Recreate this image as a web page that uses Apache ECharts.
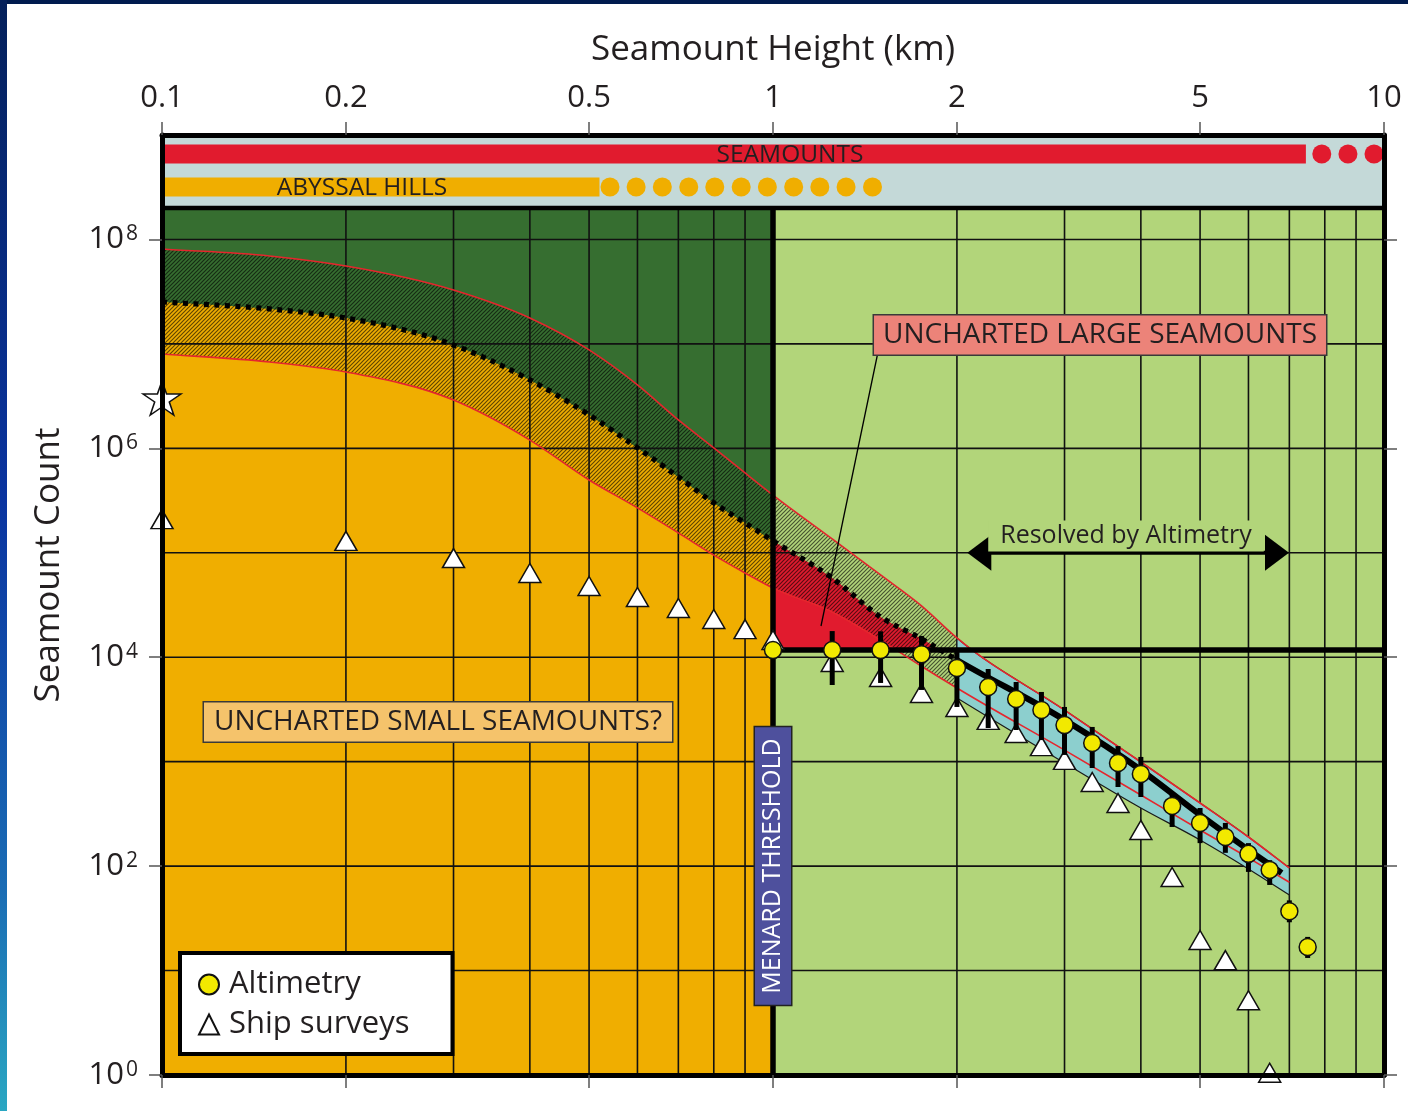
<!DOCTYPE html>
<html>
<head>
<meta charset="utf-8">
<title>Seamount Height vs Count</title>
<script src="https://cdn.jsdelivr.net/npm/echarts@6/dist/echarts.min.js"></script>
<style>
  html, body { margin: 0; padding: 0; background: #ffffff; }
  #chart { width: 1408px; height: 1111px; }
</style>
</head>
<body>
<div id="chart"></div>
<script>
// ---------- axis ticks ----------
const heightTicks = [0.1, 0.2, 0.5, 1, 2, 5, 10];
const countTicks = [1, 1e2, 1e4, 1e6, 1e8];
const gridHeights = [0.2, 0.3, 0.4, 0.5, 0.6, 0.7, 0.8, 0.9, 2, 3, 4, 5, 6, 7, 8, 9];
const gridCounts = [1e1, 1e2, 1e3, 1e4, 1e5, 1e6, 1e7, 1e8];

// ---------- model envelope (cumulative count vs height) ----------
const curveHeights = [0.1, 0.15, 0.2, 0.3, 0.4, 0.5, 0.6, 0.7, 0.8, 0.9, 1, 1.25, 1.5, 1.75, 2, 3, 4, 5, 6, 7];
const upperBound = [8.1e7, 6.95e7, 5.57e7, 3.28e7, 1.77e7, 8.75e6, 4.05e6, 1.87e6, 1.01e6, 5.81e5, 3.57e5, 1.36e5, 6.13e4, 3.1e4, 1.53e4, 3.12e3, 993, 402, 190, 96];
const lowerBound = [8.0e6, 6.71e6, 5.38e6, 2.9e6, 1.2e6, 4.98e5, 2.69e5, 1.55e5, 9.5e4, 6.41e4, 4.6e4, 2.71e4, 1.46e4, 8.2e3, 5.07e3, 1.29e3, 480, 222, 120, 70];
const medianHeights = [0.1, 0.15, 0.2, 0.3, 0.4, 0.5, 0.6, 0.7, 0.8, 0.9, 1, 1.25, 1.5, 1.75, 2, 3, 4, 5, 6, 6.8];
const medianModel = [2.52e7, 2.16e7, 1.77e7, 9.77e6, 4.52e6, 2.09e6, 1.01e6, 5.32e5, 3.0e5, 1.93e5, 1.3e5, 5.74e4, 2.43e4, 1.5e4, 9.4e3, 2.51e3, 832, 309, 143, 86];

// altimetry-resolved band (upper edge follows upperBound)
const bandHeights = [2, 3, 4, 5, 6, 7];
const bandLower = [4.07e3, 971, 360, 178, 94, 53];

// Menard threshold
const menardHeight = 1;
const menardCount = 1.17e4;
const resolvedFrom = 2;

// ---------- observations ----------
const altimetryHeights = [1, 1.25, 1.5, 1.75, 2, 2.25, 2.5, 2.75, 3, 3.33, 3.67, 4, 4.5, 5, 5.5, 6, 6.5, 7, 7.5];
const altimetryCounts = [1.17e4, 1.17e4, 1.17e4, 1.07e4, 7.89e3, 5.19e3, 3.98e3, 3.12e3, 2.24e3, 1.51e3, 971, 762, 377, 259, 190, 131, 92, 37, 16.8];
const altimetryHigh = [1.17e4, 1.78e4, 1.77e4, 1.6e4, 1.17e4, 7.71e3, 5.79e3, 4.65e3, 3.34e3, 2.15e3, 1.41e3, 1.11e3, 512, 360, 259, 166, 114, 47, 21];
const altimetryLow = [1.17e4, 5.42e3, 5.67e3, 4.86e3, 3.34e3, 2.1e3, 2.01e3, 1.61e3, 1.16e3, 870, 572, 459, 237, 166, 134, 88, 66, 29, 13.2];

const shipHeights = [0.1, 0.2, 0.3, 0.4, 0.5, 0.6, 0.7, 0.8, 0.9, 1, 1.25, 1.5, 1.75, 2, 2.25, 2.5, 2.75, 3, 3.33, 3.67, 4, 4.5, 5, 5.5, 6, 6.5];
const shipCounts = [2.1e5, 1.3e5, 8.9e4, 6.41e4, 4.81e4, 3.77e4, 2.96e4, 2.32e4, 1.86e4, 1.46e4, 9.0e3, 6.47e3, 4.55e3, 3.34e3, 2.51e3, 1.88e3, 1.41e3, 1.04e3, 639, 402, 222, 78.7, 19.6, 12.6, 5.2, 1.05];

const starHeight = [0.1];
const starCount = [3.03e6];

// ---------- size-class bars in the top strip ----------
const seamountRange = [0.1, 7.45];
const seamountDots = [7.91, 8.73, 9.63];
const seamountLevel = 6.58e8;
const abyssalRange = [0.1, 0.52];
const abyssalDots = [0.541, 0.597, 0.659, 0.728, 0.803, 0.887, 0.979, 1.081, 1.193, 1.317, 1.455];
const abyssalLevel = 3.18e8;

// arrow of the altimetry-resolved range
const resolvedRange = [2.08, 6.99];
const resolvedLevel = 1e5;

// ---------- extents ----------
const X_MIN = 0.1, X_MAX = 10, Y_MIN = 1, Y_MAX = 1e9, STRIP = 2e8;

const FONT = "'Open Sans', 'Noto Sans', sans-serif";
const INK = '#231f20';
const COL = {
  darkGreen: '#366e30',
  orange: '#f0ae00',
  lightGreen: '#b2d57a',
  red: '#e11b2e',
  cyan: '#8ccfce',
  strip: '#c4d9d8',
  redLine: '#e5262d',
  yellow: '#f2e900'
};

// ---------- helpers ----------
const pairs = (xs, ys) => xs.map((x, i) => [x, ys[i]]);
const idxOf = (xs, v) => xs.findIndex(x => Math.abs(x - v) < 1e-9);

// Smooth (monotone cubic Hermite) curve through pixel points, as Bezier segments.
function bezierSegments(px) {
  const n = px.length, d = [], h = [], m = new Array(n);
  for (let i = 0; i < n - 1; i++) {
    h[i] = px[i + 1][0] - px[i][0];
    d[i] = (px[i + 1][1] - px[i][1]) / h[i];
  }
  m[0] = d[0]; m[n - 1] = d[n - 2];
  for (let i = 1; i < n - 1; i++) {
    m[i] = d[i - 1] * d[i] <= 0 ? 0 : (h[i] * d[i - 1] + h[i - 1] * d[i]) / (h[i - 1] + h[i]);
  }
  for (let i = 0; i < n - 1; i++) {
    if (d[i] === 0) { m[i] = m[i + 1] = 0; continue; }
    const a = m[i] / d[i], b = m[i + 1] / d[i], s = a * a + b * b;
    if (s > 9) { const t = 3 / Math.sqrt(s); m[i] = t * a * d[i]; m[i + 1] = t * b * d[i]; }
  }
  const segs = [];
  for (let i = 0; i < n - 1; i++) {
    const p0 = px[i], p1 = px[i + 1], k = h[i] / 3;
    segs.push([p0, [p0[0] + k, p0[1] + m[i] * k], [p1[0] - k, p1[1] - m[i + 1] * k], p1]);
  }
  return segs;
}
const f = v => v.toFixed(2);
const C = s => ` C${f(s[1][0])},${f(s[1][1])} ${f(s[2][0])},${f(s[2][1])} ${f(s[3][0])},${f(s[3][1])}`;
const rev = s => [s[3], s[2], s[1], s[0]];
const forwardPath = segs => segs.map(C).join('');
const backwardPath = segs => segs.slice().reverse().map(s => C(rev(s))).join('');
const M = p => `M${f(p[0])},${f(p[1])}`;
const Lto = p => ` L${f(p[0])},${f(p[1])}`;

// split a Bezier segment where it reaches pixel height yLevel
function splitAtY(s, yLevel) {
  const at = (t) => {
    const l = (a, b) => [a[0] + (b[0] - a[0]) * t, a[1] + (b[1] - a[1]) * t];
    const a = l(s[0], s[1]), b = l(s[1], s[2]), c = l(s[2], s[3]);
    const ab = l(a, b), bc = l(b, c);
    return { seg: [s[0], a, ab, l(ab, bc)], p: l(ab, bc) };
  };
  let lo = 0, hi = 1;
  for (let k = 0; k < 40; k++) {
    const mid = (lo + hi) / 2;
    if (at(mid).p[1] < yLevel) lo = mid; else hi = mid;
  }
  return at((lo + hi) / 2).seg;
}

// diagonal hatch tile
const hatch = (() => {
  const s = 4, c = document.createElement('canvas');
  c.width = c.height = s;
  const g = c.getContext('2d');
  g.strokeStyle = 'rgba(0,0,0,0.6)';
  g.lineWidth = 1.2;
  g.beginPath();
  g.moveTo(-1, s + 1); g.lineTo(s + 1, -1);
  g.moveTo(-1, 1); g.lineTo(1, -1);
  g.moveTo(s - 1, s + 1); g.lineTo(s + 1, s - 1);
  g.stroke();
  return c;
})();

function seg(api, a, b, style) {
  const p = api.coord(a), q = api.coord(b);
  return { type: 'line', shape: { x1: p[0], y1: p[1], x2: q[0], y2: q[1] }, style };
}

// one-shot custom layer
function layer(z, build) {
  return {
    type: 'custom', z, silent: true, clip: false,
    data: [[1, 1]], encode: { x: 0, y: 1 },
    renderItem: (params, api) => ({ type: 'group', children: build(api) })
  };
}

// envelope geometry in pixels
function envelope(api) {
  const toPx = (xs, ys) => xs.map((x, i) => api.coord([x, ys[i]]));
  return {
    U: bezierSegments(toPx(curveHeights, upperBound)),
    L: bezierSegments(toPx(curveHeights, lowerBound)),
    Mid: bezierSegments(toPx(medianHeights, medianModel)),
    B: bezierSegments(toPx(bandHeights, bandLower))
  };
}
const pathEl = (d, style) => ({ type: 'path', shape: { pathData: d }, style });

const iOne = idxOf(curveHeights, menardHeight), iTwo = idxOf(curveHeights, resolvedFrom);
const mOne = idxOf(medianHeights, menardHeight), mTwo = idxOf(medianHeights, resolvedFrom);

const chart = echarts.init(document.getElementById('chart'));

const tickStyle = { color: '#555', width: 1.5 };
const frameLine = { show: true, lineStyle: { color: '#000', width: 5 } };

const option = {
  animation: false,
  backgroundColor: '#ffffff',
  grid: { left: 162, top: 135, width: 1222, height: 940 },
  xAxis: [
    {
      type: 'log', logBase: 10, min: X_MIN, max: X_MAX, position: 'top', z: 20,
      name: 'Seamount Height (km)', nameLocation: 'middle', nameGap: 67,
      nameTextStyle: { fontFamily: FONT, fontSize: 35, color: INK },
      axisLine: frameLine,
      axisTick: { show: true, length: 13, customValues: heightTicks, lineStyle: tickStyle },
      axisLabel: { customValues: heightTicks, formatter: v => String(v), fontFamily: FONT, fontSize: 31, color: INK, margin: 21 },
      splitLine: { show: false }, minorTick: { show: false }
    },
    {
      type: 'log', logBase: 10, min: X_MIN, max: X_MAX, position: 'bottom', z: 20,
      axisLine: frameLine,
      axisTick: { show: true, length: 13, customValues: heightTicks, lineStyle: tickStyle },
      axisLabel: { show: false },
      splitLine: { show: false }
    }
  ],
  yAxis: [
    {
      type: 'log', logBase: 10, min: Y_MIN, max: Y_MAX, position: 'left', z: 20,
      name: 'Seamount Count', nameLocation: 'middle', nameGap: 95, nameRotate: 90,
      nameTextStyle: { fontFamily: FONT, fontSize: 35, color: INK, padding: [0, 0, 0, 80] },
      axisLine: frameLine,
      axisTick: { show: true, length: 13, customValues: countTicks, lineStyle: tickStyle },
      axisLabel: {
        customValues: countTicks, margin: 24, color: INK,
        formatter: v => '{b|10}{s|' + Math.round(Math.log10(v)) + '}',
        rich: {
          b: { fontFamily: FONT, fontSize: 31, color: INK },
          s: { fontFamily: FONT, fontSize: 21, color: INK, verticalAlign: 'top', padding: [0, 0, 0, 2] }
        }
      },
      splitLine: { show: false }
    },
    {
      type: 'log', logBase: 10, min: Y_MIN, max: Y_MAX, position: 'right', z: 20,
      axisLine: frameLine,
      axisTick: { show: true, length: 13, customValues: countTicks, lineStyle: tickStyle },
      axisLabel: { show: false },
      splitLine: { show: false }
    }
  ],
  legend: {
    data: ['Altimetry', 'Ship surveys'],
    orient: 'vertical', left: 180, top: 953, z: 40,
    backgroundColor: '#ffffff', borderColor: '#000', borderWidth: 4, borderRadius: 0,
    padding: [16, 43, 14, 18], itemGap: 9, itemWidth: 20, itemHeight: 20,
    textStyle: { fontFamily: FONT, fontSize: 31, color: INK, padding: [0, 0, 0, 5] },
    selectedMode: false
  },
  series: [
    // base fills: dark green / light green panels, orange below the median model, red uncharted wedge
    layer(1, api => {
      const e = envelope(api);
      const pLeftTop = api.coord([X_MIN, STRIP]), pMidTop = api.coord([menardHeight, STRIP]);
      const pLeftBot = api.coord([X_MIN, Y_MIN]), pMidBot = api.coord([menardHeight, Y_MIN]);
      const pRightTop = api.coord([X_MAX, STRIP]), pRightBot = api.coord([X_MAX, Y_MIN]);
      const thrY = api.coord([menardHeight, menardCount])[1];
      // wedge above the threshold and below the median, right of the Menard line
      const wedgeSegs = [];
      for (let i = mOne; i < e.Mid.length; i++) {
        const s = e.Mid[i];
        if (s[3][1] < thrY) { wedgeSegs.push(s); continue; }
        wedgeSegs.push(splitAtY(s, thrY));
        break;
      }
      const wedgeEnd = wedgeSegs[wedgeSegs.length - 1][3];
      return [
        pathEl(M(pLeftBot) + Lto(pMidBot) + Lto(pMidTop) + Lto(pLeftTop) + ' Z', { fill: COL.darkGreen }),
        pathEl(M(e.Mid[0][0]) + forwardPath(e.Mid.slice(0, mOne)) + Lto(pMidBot) + Lto(pLeftBot) + ' Z', { fill: COL.orange }),
        pathEl(M(pMidBot) + Lto(pRightBot) + Lto(pRightTop) + Lto(pMidTop) + ' Z', { fill: COL.lightGreen }),
        pathEl(M(wedgeSegs[0][0]) + forwardPath(wedgeSegs) + Lto([wedgeEnd[0], thrY]) + Lto([e.Mid[mOne][0][0], thrY]) + ' Z', { fill: COL.red })
      ];
    }),
    // hatched envelope between the bounds
    layer(2, api => {
      const e = envelope(api);
      const up = e.U.slice(0, iTwo), lo = e.L.slice(0, iTwo);
      return [pathEl(M(up[0][0]) + forwardPath(up) + Lto(lo[lo.length - 1][3]) + backwardPath(lo) + ' Z',
        { fill: { image: hatch, repeat: 'repeat' } })];
    }),
    // grid lines
    layer(3, api => {
      const st = { stroke: '#111', lineWidth: 1.6 };
      return [
        ...gridHeights.map(h => seg(api, [h, Y_MIN], [h, STRIP], st)),
        ...gridCounts.map(c => seg(api, [X_MIN, c], [X_MAX, c], st))
      ];
    }),
    // altimetry-resolved band
    layer(4, api => {
      const e = envelope(api);
      const up = e.U.slice(iTwo);
      return [pathEl(M(up[0][0]) + forwardPath(up) + Lto(e.B[e.B.length - 1][3]) + backwardPath(e.B) + ' Z',
        { fill: COL.cyan, stroke: '#1a1a1a', lineWidth: 1.2 })];
    }),
    // top strip with size classes
    layer(5, api => {
      const tl = api.coord([X_MIN, Y_MAX]), br = api.coord([X_MAX, STRIP]);
      const children = [
        { type: 'rect', shape: { x: tl[0], y: tl[1], width: br[0] - tl[0], height: br[1] - tl[1] }, style: { fill: COL.strip } }
      ];
      const bar = (range, level, color) => children.push(seg(api, [range[0], level], [range[1], level], { stroke: color, lineWidth: 19 }));
      const dots = (xs, level, color) => xs.forEach(x => {
        const c = api.coord([x, level]);
        children.push({ type: 'circle', shape: { cx: c[0], cy: c[1], r: 9.5 }, style: { fill: color } });
      });
      bar(seamountRange, seamountLevel, COL.red);
      dots(seamountDots, seamountLevel, COL.red);
      bar(abyssalRange, abyssalLevel, COL.orange);
      dots(abyssalDots, abyssalLevel, COL.orange);
      children.push(seg(api, [X_MIN, STRIP], [X_MAX, STRIP], { stroke: '#000', lineWidth: 4.5 }));
      return children;
    }),
    // envelope curves: red bounds, dotted median model, solid fit where altimetry resolves
    layer(6, api => {
      const e = envelope(api);
      const red = { stroke: COL.redLine, lineWidth: 1.6, fill: null };
      return [
        pathEl(M(e.U[0][0]) + forwardPath(e.U), red),
        pathEl(M(e.L[0][0]) + forwardPath(e.L), red),
        pathEl(M(e.Mid[0][0]) + forwardPath(e.Mid.slice(0, mTwo)), { stroke: '#000', lineWidth: 5.2, lineDash: [5, 5.5], fill: null }),
        pathEl(M(e.Mid[mTwo][0]) + forwardPath(e.Mid.slice(mTwo)), { stroke: '#000', lineWidth: 6, fill: null })
      ];
    }),
    // Menard threshold lines and the resolved-range arrow
    layer(7, api => {
      const thick = { stroke: '#000', lineWidth: 5.5 };
      const a = api.coord([resolvedRange[0], resolvedLevel]);
      const b = api.coord([resolvedRange[1], resolvedLevel]);
      const head = 24, half = 18;
      return [
        seg(api, [menardHeight, Y_MIN], [menardHeight, STRIP], thick),
        seg(api, [menardHeight, menardCount], [X_MAX, menardCount], thick),
        { type: 'line', shape: { x1: a[0] + head - 2, y1: a[1], x2: b[0] - head + 2, y2: b[1] }, style: { stroke: '#000', lineWidth: 4 } },
        { type: 'polygon', shape: { points: [a, [a[0] + head, a[1] - half], [a[0] + head, a[1] + half]] }, style: { fill: '#000' } },
        { type: 'polygon', shape: { points: [b, [b[0] - head, b[1] - half], [b[0] - head, b[1] + half]] }, style: { fill: '#000' } }
      ];
    }),
    // ship surveys
    {
      name: 'Ship surveys', type: 'scatter', z: 9, clip: false, silent: true,
      symbol: 'triangle', symbolSize: [22, 19],
      itemStyle: { color: '#ffffff', borderColor: '#111', borderWidth: 1.5, opacity: 1 },
      data: pairs(shipHeights, shipCounts)
    },
    // altimetry error bars
    {
      type: 'custom', z: 10, silent: true, clip: false,
      data: altimetryHeights.map((h, i) => [h, altimetryLow[i], altimetryHigh[i]]),
      encode: { x: 0, y: [1, 2] },
      renderItem: (params, api) => seg(api, [api.value(0), api.value(1)], [api.value(0), api.value(2)], { stroke: '#000', lineWidth: 5 })
    },
    // altimetry counts
    {
      name: 'Altimetry', type: 'scatter', z: 11, clip: false, silent: true,
      symbol: 'circle', symbolSize: 17,
      itemStyle: { color: COL.yellow, borderColor: '#111', borderWidth: 1.5, opacity: 1 },
      data: pairs(altimetryHeights, altimetryCounts)
    },
    // star marker on the count axis
    {
      type: 'scatter', z: 11, clip: false, silent: true,
      symbol: 'path://M50,0 L61.8,35.3 L98.9,35.3 L68.8,57.1 L80.3,92.7 L50,70.9 L19.7,92.7 L31.2,57.1 L1.1,35.3 L38.2,35.3 Z',
      symbolSize: [38, 34],
      itemStyle: { color: '#ffffff', borderColor: '#111', borderWidth: 1.5, opacity: 1 },
      data: pairs(starHeight, starCount)
    }
  ],
  graphic: [
    // page edge
    { type: 'rect', z: 60, shape: { x: 0, y: 0, width: 1408, height: 4 }, style: { fill: '#001b4e' } },
    {
      type: 'rect', z: 60, shape: { x: 0, y: 0, width: 7, height: 1111 },
      style: { fill: new echarts.graphic.LinearGradient(0, 0, 0, 1, [
        { offset: 0, color: '#04205a' }, { offset: 0.45, color: '#0a34a0' }, { offset: 0.8, color: '#1a6cb4' }, { offset: 1, color: '#2aa7c2' }
      ]) }
    },
    // strip labels
    { type: 'text', z: 50, x: 790, y: 155, style: { text: 'SEAMOUNTS', font: '24.5px ' + FONT, fill: INK, align: 'center', verticalAlign: 'middle' } },
    { type: 'text', z: 50, x: 362, y: 188, style: { text: 'ABYSSAL HILLS', font: '24.5px ' + FONT, fill: INK, align: 'center', verticalAlign: 'middle' } },
    // annotations
    { type: 'line', z: 49, shape: { x1: 878, y1: 352, x2: 821, y2: 626 }, style: { stroke: '#000', lineWidth: 1.3 } },
    {
      type: 'text', z: 50, x: 1100, y: 335,
      style: { text: 'UNCHARTED LARGE SEAMOUNTS', font: '28px ' + FONT, fill: INK, align: 'center', verticalAlign: 'middle',
        backgroundColor: '#ec8379', borderColor: '#3a3a3a', borderWidth: 1.5, padding: [3, 9, 2, 9], lineHeight: 34 }
    },
    {
      type: 'text', z: 50, x: 438, y: 722,
      style: { text: 'UNCHARTED SMALL SEAMOUNTS?', font: '28px ' + FONT, fill: INK, align: 'center', verticalAlign: 'middle',
        backgroundColor: '#f5c36b', borderColor: '#3a3a3a', borderWidth: 1.5, padding: [3, 10, 2, 10], lineHeight: 34 }
    },
    {
      type: 'text', z: 50, x: 773, y: 866, rotation: Math.PI / 2,
      style: { text: 'MENARD THRESHOLD', font: '25px ' + FONT, fill: '#ffffff', align: 'center', verticalAlign: 'middle',
        backgroundColor: '#4e509d', borderColor: '#222', borderWidth: 1.5, padding: [3, 11, 3, 11], lineHeight: 30 }
    },
    {
      type: 'text', z: 50, x: 1126, y: 536,
      style: { text: 'Resolved by Altimetry', font: '25px ' + FONT, fill: INK, align: 'center', verticalAlign: 'middle',
        backgroundColor: COL.lightGreen, padding: [1, 12, 0, 12], lineHeight: 30 }
    }
  ]
};

chart.setOption(option);
</script>
</body>
</html>
